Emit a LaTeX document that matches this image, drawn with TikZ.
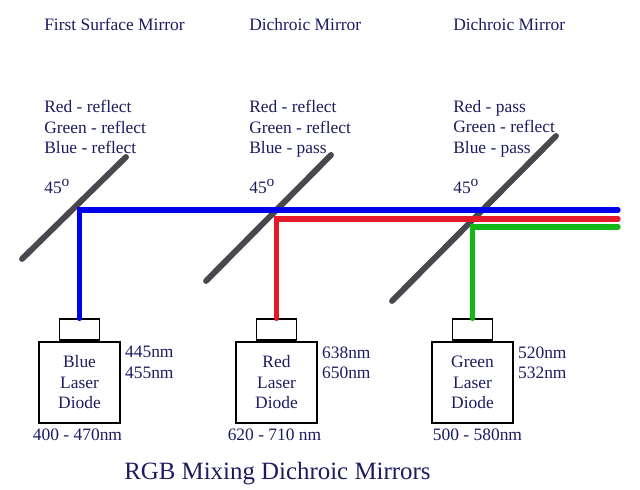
\documentclass[tikz,border=0pt]{standalone}
\usepackage{fontspec}
\setmainfont{Liberation Serif}
\usepackage{tikz}
\usetikzlibrary{calc}
\definecolor{inkblue}{RGB}{28,28,96}
\definecolor{mirrorgray}{RGB}{72,72,78}
\definecolor{beamblue}{RGB}{0,0,235}
\definecolor{beamred}{RGB}{228,24,40}
\definecolor{beamgreen}{RGB}{20,184,20}
\def\drawmirror{\draw[color=mirrorgray, line width=4.2pt, line cap=round]}
\def\drawbeam{\draw[line width=3.8pt, line cap=round]}
\def\diodenode{\node[draw=black, line width=1.2pt, minimum width=57.6pt, minimum height=57.6pt, align=center]}
\def\capnode{\node[draw=black, line width=1.2pt, minimum width=28.4pt, minimum height=15pt, inner sep=0pt, anchor=south]}
\def\textnode{\node[inner sep=0pt, align=left, anchor=north west]}
\def\dego{\raisebox{0.45em}{\fontsize{11}{12}\selectfont o}}

\begin{document}
\begin{tikzpicture}[x=0.025cm,y=-0.025cm,every node/.style={text=inkblue, font=\fontsize{12.4}{14.6}\selectfont}]
\useasboundingbox (0,0) rectangle (640,490);

% ---------- headings and what each mirror does
\textnode (head1) at (44,18) {First Surface Mirror};
\textnode (head2) at (249,18) {Dichroic Mirror};
\textnode (head3) at (453,18) {Dichroic Mirror};
\textnode (rule1) at (44,100) {Red - reflect\\Green - reflect\\Blue - reflect};
\textnode (rule2) at (249,100) {Red - reflect\\Green - reflect\\Blue - pass};
\textnode (rule3) at (453,100) {Red - pass\\Green - reflect\\Blue - pass};
\node[inner sep=0pt, anchor=base west] (angle1) at (44,194) {45\dego};
\node[inner sep=0pt, anchor=base west] (angle2) at (249,194) {45\dego};
\node[inner sep=0pt, anchor=base west] (angle3) at (453,194) {45\dego};

% ---------- the three mirrors at 45 degrees
\coordinate (m1low) at (22,259);
\coordinate (m1high) at (126,157);
\coordinate (m2low) at (206,281);
\coordinate (m2high) at (331,155);
\coordinate (m3low) at (392,301);
\coordinate (m3high) at (556,136);
\drawmirror (m1low) to (m1high);
\drawmirror (m2low) to (m2high);
\drawmirror (m3low) to (m3high);

% ---------- laser diodes
\diodenode (blue) at (79.5,382.5) {Blue\\Laser\\Diode};
\capnode (bluecap) at (blue.north) {};
\diodenode (red) at (276.5,382.5) {Red\\Laser\\Diode};
\capnode (redcap) at (red.north) {};
\diodenode (green) at (472.5,382.5) {Green\\Laser\\Diode};
\capnode (greencap) at (green.north) {};

\textnode (bluewave) at ($ (blue.north east) + (4,5) $) {445nm\\455nm};
\textnode (redwave) at ($ (red.north east) + (4,5) $) {638nm\\650nm};
\textnode (greenwave) at ($ (green.north east) + (4,5) $) {520nm\\532nm};
\node[inner sep=0pt, anchor=north] (bluerange) at ($ (blue.south) + (-2,5) $) {400 - 470nm};
\node[inner sep=0pt, anchor=north] (redrange) at ($ (red.south) + (-2,5) $) {620 - 710 nm};
\node[inner sep=0pt, anchor=north] (greenrange) at ($ (green.south) + (5,5) $) {500 - 580nm};

% ---------- beams, bent up and out to the right
\coordinate (blueend) at (618,210);
\coordinate (redend) at (618,219);
\coordinate (greenend) at (618,227);
\drawbeam[color=beamblue] (bluecap.north) |- (blueend);
\drawbeam[color=beamred] (redcap.north) |- (redend);
\drawbeam[color=beamgreen] (greencap.north) |- (greenend);

\node[inner sep=0pt, anchor=base west, font=\fontsize{17.7}{21}\selectfont] (title) at (124,480) {RGB Mixing Dichroic Mirrors};
\end{tikzpicture}
\end{document}
